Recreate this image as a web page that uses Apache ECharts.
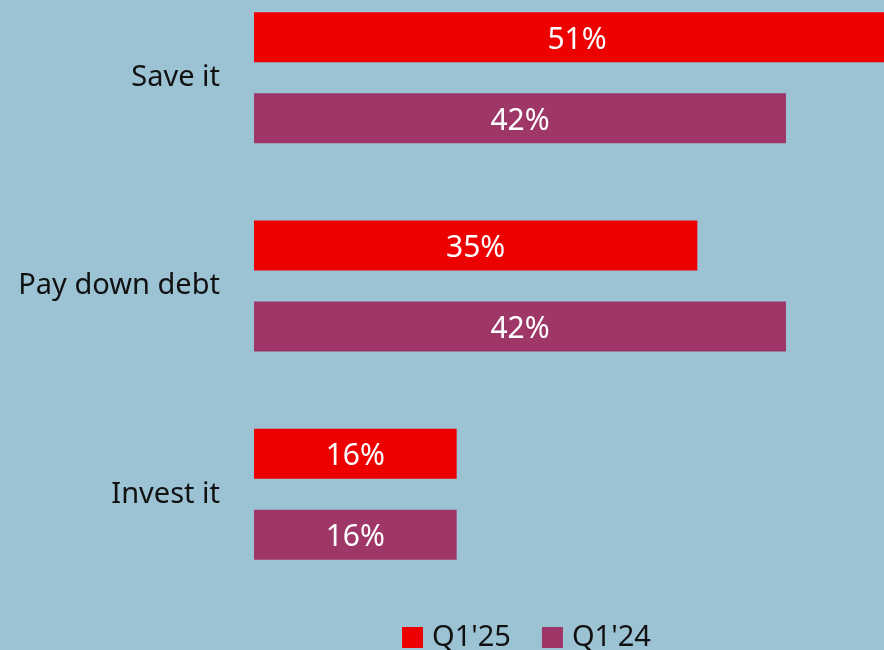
<!DOCTYPE html>
<html>
<head>
<meta charset="utf-8">
<style>
  html, body { margin: 0; padding: 0; background: #9cc3d4; }
  #chart { width: 884px; height: 650px; }
</style>
<script src="https://cdn.jsdelivr.net/npm/echarts@6/dist/echarts.min.js"></script>
</head>
<body>
<div id="chart"></div>
<script>
const categories = ['Save it', 'Pay down debt', 'Invest it'];
const seriesNames = ["Q1'25", "Q1'24"];
const q125 = [51, 35, 16];
const q124 = [42, 42, 16];

const FONT = '"Noto Sans", "Open Sans", sans-serif';
const chart = echarts.init(document.getElementById('chart'), null, { renderer: 'canvas' });

const barLabel = {
  show: true,
  position: 'inside',
  offset: [0, 3],
  color: '#ffffff',
  fontFamily: FONT,
  fontSize: 30,
  formatter: p => p.value + '%'
};

chart.setOption({
  backgroundColor: '#9cc3d4',
  animation: false,
  grid: {
    left: 254, top: -26.5, width: 646, height: 625,
    containLabel: false, outerBoundsMode: 'none'
  },
  xAxis: {
    type: 'value', min: 0, max: 51,
    show: false
  },
  yAxis: {
    type: 'category',
    data: categories,
    inverse: true,
    axisLine: { show: false },
    axisTick: { show: false },
    axisLabel: { color: '#111111', fontFamily: FONT, fontSize: 29, margin: 34 }
  },
  legend: {
    left: 402, top: 623, padding: 0,
    itemWidth: 21, itemHeight: 21, itemGap: 31,
    icon: 'rect',
    textStyle: { color: '#111111', fontFamily: FONT, fontSize: 29, padding: [0, 0, 0, 4] },
    data: seriesNames
  },
  series: [
    {
      name: seriesNames[0], type: 'bar', data: q125,
      barWidth: 50, barGap: '62%',
      itemStyle: { color: '#ec0000' },
      label: barLabel
    },
    {
      name: seriesNames[1], type: 'bar', data: q124,
      barWidth: 50,
      itemStyle: { color: '#9e3667' },
      label: barLabel
    }
  ]
});
</script>
</body>
</html>
